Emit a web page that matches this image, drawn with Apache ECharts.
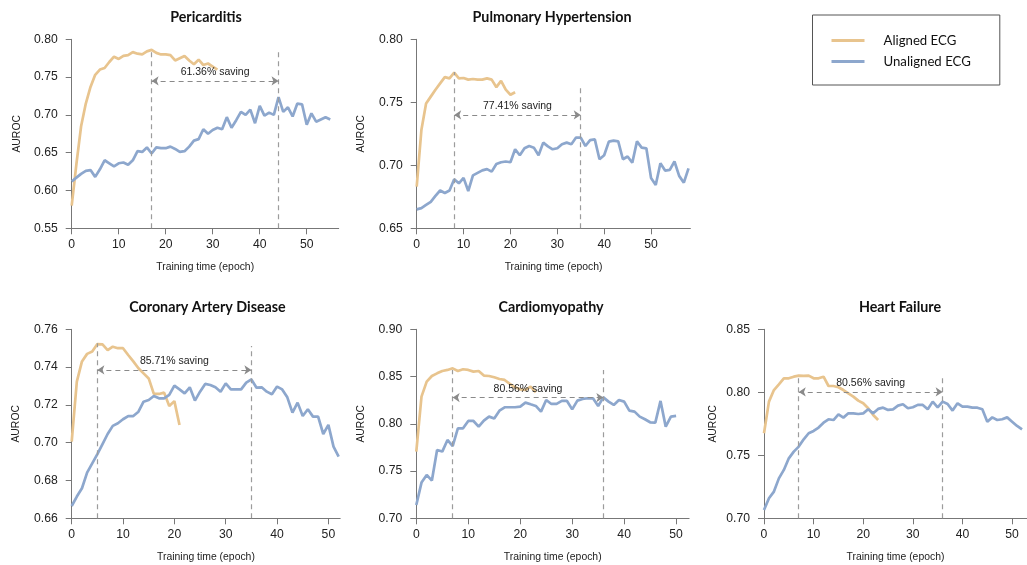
<!DOCTYPE html>
<html>
<head>
<meta charset="utf-8">
<script src="https://cdn.jsdelivr.net/npm/echarts@6/dist/echarts.min.js"></script>
<style>
html,body{margin:0;padding:0;background:#ffffff;}
#chart{width:1027px;height:565px;}
</style>
</head>
<body>
<div id="chart"></div>
<script>
// ---------------- data ----------------
const seriesNames = ['Aligned ECG', 'Unaligned ECG'];
const panelTitles = ['Pericarditis', 'Pulmonary Hypertension', 'Coronary Artery Disease', 'Cardiomyopathy', 'Heart Failure'];
const xTickValues = [0, 10, 20, 30, 40, 50];
const xAxisName = 'Training time (epoch)';
const yAxisName = 'AUROC';

const periAligned = [0.580, 0.635, 0.685, 0.715, 0.737, 0.753, 0.760, 0.762, 0.770, 0.777, 0.774, 0.778, 0.779, 0.783, 0.781, 0.780, 0.784, 0.786, 0.782, 0.780, 0.780, 0.779, 0.772, 0.775, 0.778, 0.772, 0.767, 0.773, 0.766, 0.768, 0.764, 0.760];
const periUnaligned = [0.612, 0.617, 0.622, 0.626, 0.627, 0.618, 0.628, 0.640, 0.636, 0.632, 0.636, 0.637, 0.634, 0.640, 0.652, 0.651, 0.657, 0.649, 0.657, 0.656, 0.656, 0.658, 0.655, 0.651, 0.652, 0.658, 0.666, 0.668, 0.681, 0.675, 0.680, 0.683, 0.681, 0.697, 0.683, 0.693, 0.704, 0.700, 0.707, 0.689, 0.712, 0.699, 0.703, 0.700, 0.7235, 0.704, 0.710, 0.698, 0.715, 0.714, 0.687, 0.702, 0.691, 0.694, 0.697, 0.694];

const pulmAligned = [0.683, 0.728, 0.749, 0.7545, 0.760, 0.765, 0.770, 0.769, 0.7735, 0.769, 0.7693, 0.768, 0.7685, 0.768, 0.768, 0.769, 0.768, 0.762, 0.767, 0.760, 0.756, 0.758];
const pulmUnaligned = [0.665, 0.666, 0.6685, 0.671, 0.6757, 0.680, 0.678, 0.680, 0.689, 0.6857, 0.690, 0.6796, 0.692, 0.694, 0.696, 0.697, 0.695, 0.701, 0.7024, 0.703, 0.7024, 0.7127, 0.708, 0.7135, 0.7153, 0.714, 0.708, 0.718, 0.715, 0.7127, 0.7135, 0.7167, 0.718, 0.7167, 0.722, 0.722, 0.7153, 0.720, 0.7206, 0.7048, 0.708, 0.7188, 0.7196, 0.719, 0.7048, 0.707, 0.702, 0.719, 0.714, 0.7135, 0.690, 0.6844, 0.7016, 0.6958, 0.6963, 0.703, 0.6916, 0.6862, 0.6976];

const cadAligned = [0.7006, 0.7323, 0.743, 0.747, 0.7482, 0.7522, 0.752, 0.749, 0.7508, 0.750, 0.750, 0.7464, 0.743, 0.7394, 0.7367, 0.734, 0.7258, 0.7258, 0.7265, 0.7194, 0.722, 0.7094];
const cadUnaligned = [0.6665, 0.6715, 0.6759, 0.6842, 0.6891, 0.694, 0.6993, 0.7046, 0.7089, 0.7103, 0.7124, 0.7141, 0.7141, 0.7164, 0.7217, 0.7226, 0.7247, 0.7235, 0.7235, 0.7253, 0.7302, 0.7282, 0.7261, 0.7293, 0.7223, 0.727, 0.7311, 0.7305, 0.7293, 0.727, 0.7314, 0.7282, 0.7282, 0.7282, 0.7318, 0.7335, 0.7291, 0.7293, 0.727, 0.7256, 0.7297, 0.7282, 0.724, 0.7159, 0.7212, 0.7141, 0.7177, 0.7138, 0.7138, 0.7046, 0.7094, 0.6979, 0.6926];

const cardioAligned = [0.7706, 0.8287, 0.8446, 0.8506, 0.8534, 0.8559, 0.8570, 0.8587, 0.8559, 0.8577, 0.8570, 0.8552, 0.8559, 0.8510, 0.8506, 0.8492, 0.8474, 0.8464, 0.8422, 0.8386, 0.8365, 0.8358, 0.8393, 0.8333];
const cardioUnaligned = [0.7141, 0.7378, 0.7459, 0.7399, 0.7723, 0.7706, 0.7829, 0.7765, 0.7952, 0.7952, 0.8030, 0.8030, 0.7970, 0.8034, 0.8076, 0.8055, 0.8139, 0.8175, 0.8175, 0.8175, 0.8182, 0.8224, 0.8206, 0.8189, 0.8129, 0.8252, 0.8210, 0.8210, 0.8242, 0.8242, 0.8153, 0.8245, 0.8263, 0.8270, 0.8270, 0.8189, 0.8280, 0.8235, 0.8199, 0.8252, 0.8235, 0.8139, 0.8129, 0.8076, 0.8048, 0.8016, 0.8012, 0.8242, 0.7970, 0.8076, 0.8083];

const hfAligned = [0.7675, 0.7926, 0.8018, 0.8063, 0.8111, 0.8111, 0.8124, 0.8132, 0.8130, 0.8132, 0.8111, 0.8111, 0.8124, 0.8050, 0.8050, 0.8040, 0.8018, 0.7992, 0.7966, 0.7934, 0.7913, 0.7873, 0.7820, 0.7780];
const hfUnaligned = [0.7066, 0.7159, 0.7212, 0.7317, 0.7384, 0.7476, 0.7529, 0.7569, 0.7627, 0.7675, 0.7693, 0.7720, 0.7759, 0.7786, 0.7780, 0.7825, 0.7799, 0.7833, 0.7833, 0.7828, 0.7833, 0.7865, 0.7833, 0.7868, 0.7878, 0.7860, 0.7865, 0.7894, 0.7905, 0.7873, 0.7881, 0.7900, 0.7900, 0.7865, 0.7926, 0.7881, 0.7926, 0.7907, 0.7855, 0.7913, 0.7886, 0.7886, 0.7878, 0.7878, 0.7865, 0.7767, 0.7801, 0.7780, 0.7786, 0.7801, 0.7767, 0.7733, 0.7705];

// saving annotations: [start epoch, end epoch, top of start line, top of end line, arrow level]
const periSaving = [17, 44, 0.784, 0.785, 0.745];
const pulmSaving = [8, 35, 0.774, 0.7638, 0.740];
const cadSaving = [5, 35, 0.7526, 0.7512, 0.7385];
const cardioSaving = [7, 36, 0.857, 0.857, 0.8277];
const hfSaving = [7, 36, 0.813, 0.813, 0.8003];
const savingLabels = ['61.36% saving', '77.41% saving', '85.71% saving', '80.56% saving', '80.56% saving'];

// axis ranges: [yMin, yMax, yInterval, xMax]
const periRange = [0.55, 0.80, 0.05, 56.8];
const pulmRange = [0.65, 0.80, 0.05, 58.4];
const cadRange = [0.66, 0.76, 0.02, 52.3];
const cardioRange = [0.70, 0.90, 0.05, 52.5];
const hfRange = [0.70, 0.85, 0.05, 53];

// ---------------- layout / styles ----------------
const panels = [
  { aligned: periAligned, unaligned: periUnaligned, saving: periSaving, range: periRange },
  { aligned: pulmAligned, unaligned: pulmUnaligned, saving: pulmSaving, range: pulmRange },
  { aligned: cadAligned, unaligned: cadUnaligned, saving: cadSaving, range: cadRange },
  { aligned: cardioAligned, unaligned: cardioUnaligned, saving: cardioSaving, range: cardioRange },
  { aligned: hfAligned, unaligned: hfUnaligned, saving: hfSaving, range: hfRange }
];
const layouts = [
  { left: 71.7, top: 39.3, width: 267, height: 189, yNameGap: 50, titleX: 206 },
  { left: 416.7, top: 39.3, width: 273.7, height: 189, yNameGap: 50.5, titleX: 552 },
  { left: 71.7, top: 329.3, width: 268.5, height: 189, yNameGap: 50.5, titleX: 207.5 },
  { left: 416.3, top: 329.3, width: 272.8, height: 189, yNameGap: 50.5, titleX: 551 },
  { left: 764, top: 329.3, width: 272.3, height: 189, yNameGap: 46, titleX: 900 }
];
const COLOR_ALIGNED = '#E8C48E';
const COLOR_UNALIGNED = '#8DA7CD';
const AXIS_COLOR = '#777777';
const TEXT_COLOR = '#222222';
const DASH_COLOR = '#9c9c9c';
const FONT = 'Liberation Sans, Arial, sans-serif';

const grids = [], xAxes = [], yAxes = [], series = [], titles = [];

panels.forEach((p, i) => {
  const L = layouts[i];
  const [yMin, yMax, yInt, xMax] = p.range;
  const [s, e, topS, topE, arrowY] = p.saving;
  grids.push({ left: L.left, top: L.top, width: L.width, height: L.height, containLabel: false });
  titles.push({
    text: panelTitles[i], left: L.titleX, top: L.top - 29, textAlign: 'center', padding: 0,
    textStyle: { fontFamily: 'Lato, Open Sans, sans-serif', fontWeight: 'bold', fontSize: 14.3, color: '#111' }
  });
  xAxes.push({
    type: 'value', gridIndex: i, min: 0, max: xMax, interval: 10,
    name: xAxisName, nameLocation: 'middle', nameGap: 33.5,
    nameTextStyle: { fontFamily: FONT, fontSize: 10.4, color: TEXT_COLOR },
    axisLine: { show: true, lineStyle: { color: AXIS_COLOR, width: 1 } },
    axisTick: { show: true, length: 6, customValues: xTickValues, lineStyle: { color: AXIS_COLOR } },
    axisLabel: { customValues: xTickValues, margin: 10.5, fontFamily: FONT, fontSize: 12.2, color: TEXT_COLOR },
    splitLine: { show: false }
  });
  yAxes.push({
    type: 'value', gridIndex: i, min: yMin, max: yMax, interval: yInt,
    name: yAxisName, nameLocation: 'middle', nameGap: L.yNameGap, nameRotate: 90,
    nameTextStyle: { fontFamily: FONT, fontSize: 10.4, color: TEXT_COLOR },
    axisLine: { show: true, lineStyle: { color: AXIS_COLOR, width: 1 } },
    axisTick: { show: true, length: 6, lineStyle: { color: AXIS_COLOR } },
    axisLabel: { margin: 14, fontFamily: FONT, fontSize: 12.2, color: TEXT_COLOR, formatter: v => v.toFixed(2) },
    splitLine: { show: false }
  });
  series.push({
    name: seriesNames[0], type: 'line', xAxisIndex: i, yAxisIndex: i,
    data: p.aligned.map((v, k) => [k, v]),
    symbol: 'none', showSymbol: false, lineStyle: { color: COLOR_ALIGNED, width: 2.7 },
    itemStyle: { color: COLOR_ALIGNED }, emphasis: { disabled: true }
  });
  series.push({
    name: seriesNames[1], type: 'line', xAxisIndex: i, yAxisIndex: i,
    data: p.unaligned.map((v, k) => [k, v]),
    symbol: 'none', showSymbol: false, lineStyle: { color: COLOR_UNALIGNED, width: 2.7 },
    itemStyle: { color: COLOR_UNALIGNED }, emphasis: { disabled: true },
    markLine: {
      silent: true, animation: false, symbol: ['none', 'none'],
      lineStyle: { color: DASH_COLOR, type: [5, 4], width: 1.2 },
      label: { show: false },
      emphasis: { disabled: true },
      data: [
        [{ coord: [s, yMin] }, { coord: [s, topS] }],
        [{ coord: [e, yMin] }, { coord: [e, topE] }],
        [
          { coord: [s, arrowY], symbol: 'arrow', symbolSize: [7, 7],
            lineStyle: { color: '#8a8a8a' },
            label: { show: true, position: 'insideMiddleTop', distance: 3, formatter: savingLabels[i],
                     fontFamily: FONT, fontSize: 10.5, color: TEXT_COLOR } },
          { coord: [e, arrowY], symbol: 'arrow', symbolSize: [7, 7] }
        ]
      ]
    }
  });
});

const chart = echarts.init(document.getElementById('chart'), null, { renderer: 'canvas' });
chart.setOption({
  backgroundColor: '#ffffff',
  animation: false,
  title: titles,
  legend: {
    data: seriesNames, orient: 'vertical', left: 812.5, top: 15,
    icon: 'rect', itemWidth: 33, itemHeight: 3, itemGap: 4,
    padding: [17, 29, 15, 19],
    borderColor: '#555555', borderWidth: 1, backgroundColor: 'transparent',
    textStyle: { fontFamily: 'Lato, Open Sans, sans-serif', fontSize: 13.2, color: '#111', lineHeight: 17, padding: [0, 0, 0, 14] },
    selectedMode: false
  },
  grid: grids,
  xAxis: xAxes,
  yAxis: yAxes,
  series: series
});
</script>
</body>
</html>
